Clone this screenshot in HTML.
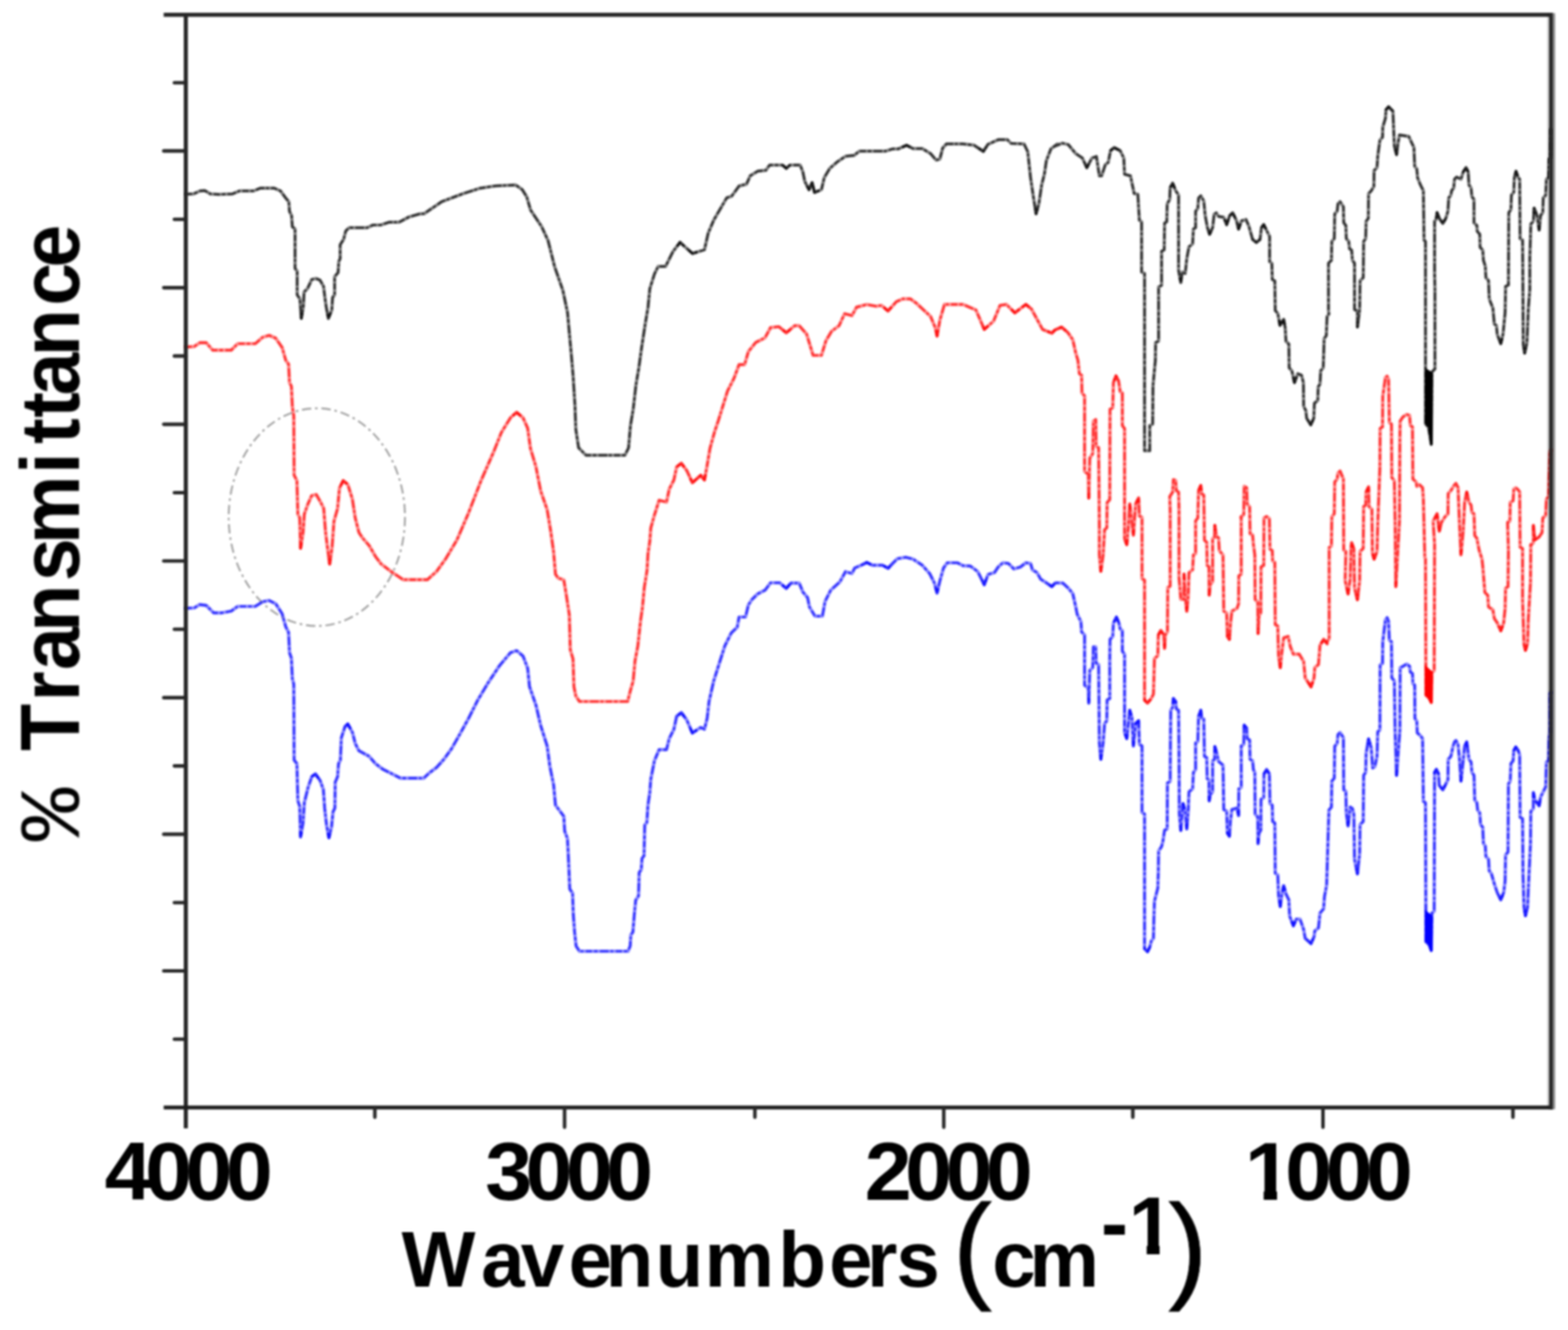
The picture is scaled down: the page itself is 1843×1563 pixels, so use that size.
<!DOCTYPE html>
<html lang="en">
<head>
<meta charset="utf-8">
<style>
html,body{margin:0;padding:0;background:#fff;}
body{width:1843px;height:1563px;overflow:hidden;}
svg{display:block;}
text{font-family:"Liberation Sans",sans-serif;font-weight:bold;fill:#000;}
.ax{stroke:#262626;fill:none;stroke-linecap:butt;}
.tk{stroke:#262626;fill:none;stroke-linecap:round;}
.cv{fill:none;stroke-linejoin:round;}
</style>
</head>
<body>
<svg width="1843" height="1563" viewBox="0 0 1843 1563">
<rect x="0" y="0" width="1843" height="1563" fill="#ffffff"/>
<g style="filter:blur(1px)">
<ellipse cx="372.4" cy="607.7" rx="103.6" ry="127.9" fill="none" stroke="#7a7a7a" stroke-width="2.2" stroke-dasharray="11 4.5 3 4.5" opacity="0.7"/>
<polyline class="cv" stroke="#1010ff" stroke-width="3.9" stroke-opacity="0.5" stroke-linecap="round" points="218.5,714.8 228.3,714.4 234.8,710.5 242.4,711.5 251.1,720.2 260.9,720.2 271.8,718.1 279.4,712.6 300.1,712.6 308.8,707.2 316.4,705.7 324,709.4 331.6,721.3 335.9,736.6 339.2,743.1 340.3,767 342.5,773.5 343.6,797.5 345.3,804 345.7,893.2 349,897.5 350.1,941 352.3,947.6 353.3,983.5 356.2,967.1 357.7,943.2 362,925.8 366.4,912.8 370.7,909.5 376.2,917.1 380.1,928 381.6,949.7 383.8,969.3 386.6,984.5 389.7,971.5 391.4,954.1 393.6,949.7 394,919.3 396.8,912.8 397.9,897.5 400.1,893.2 401.2,867.1 405.5,854 408.8,850.8 414.2,860.6 417.5,873.6 421.9,882.3 433.8,888.8 441.4,897.5 450.1,904.1 461,909.5 470.8,914.5 498,914.5 504.5,908.4 513.2,901.9 521.9,892.1 530.6,880.1 539.3,864.9 550.2,845.3 561.1,823.6 574.1,801.8 587.2,782.2 600,767 607.2,764.6 614.8,771.1 620.2,785.3 622.4,807 630,828.8 635.5,852.7 643.1,876.6 646.3,900.6 650.7,922.3 652.9,946.2 662.7,959.3 663.7,976.7 667,985.4 668.1,1007.1 669.7,1044.8 673,1049.7 673.8,1074.2 675.4,1095.4 677.1,1111.7 681.1,1117.9 738.2,1117.9 740.7,1111.7 741.5,1098.7 743.9,1095.4 745.6,1074.2 747.2,1057.9 750.5,1053 751.3,1025.3 753.7,1022 754.6,1008.9 757,1005.7 757.8,969.8 760.3,966.5 761.6,946.2 763.8,931 764.9,915.8 769.2,894 774.7,881 783.4,881 786.6,867.9 792.1,857 795.3,841.8 800.8,837.5 807.3,846.2 813.8,861.4 823.6,854.9 828,857 831.2,844 833.4,824.4 838.8,800.5 844.3,783.1 851.9,759.2 859.5,743.9 866.5,737.1 868.7,725.1 876.3,725.1 879.6,711 883.9,704.5 890.5,698 899.2,693.6 905.7,684.9 916.6,684.9 924.2,691.4 929.6,685.3 939.4,685.3 943.7,695.8 949.2,702.3 951.4,713.2 957.9,724.1 966.6,724.1 969.8,706.7 976.4,693.6 987.2,683.8 993.8,671.8 1001.4,674 1004.6,667.5 1012.3,664.2 1018.8,661 1025.3,664.2 1037.3,664.2 1043.8,667.9 1049.2,662.1 1054.7,656.6 1064.5,654.9 1073.2,657.1 1084,664.2 1092.7,674 1098.2,684.9 1101.4,696.9 1104.7,682.7 1109,667.5 1113.4,661.4 1125.4,661.4 1131.9,664.7 1140.6,665.3 1149.3,671.8 1156.9,687.1 1161.3,675.1 1168.9,672.9 1173.2,666.4 1178.7,661.4 1185.2,662.1 1191.7,668.6 1199.3,666.4 1205.8,661.4 1211.3,662.1 1213.5,669.7 1218.9,672.9 1223.2,680.6 1229.8,684.9 1236.3,689.3 1240.6,684.9 1249.3,685.3 1255.9,691.4 1260.9,697.5 1264.4,713.1 1266.1,721.8 1270.5,730.5 1271.3,742.7 1274.8,746.2 1274.8,805.3 1279.2,808.8 1279.7,826.2 1280.9,787.9 1284.4,784.5 1285.2,760.1 1287.9,760.1 1288.4,779.2 1291.3,781 1292.2,873.1 1293.9,892.2 1296.6,873.1 1298.3,850.5 1300.9,847 1301.3,822.6 1304.4,820.9 1304.4,774 1304.7,751.4 1307.9,747.9 1308.7,732.3 1312.2,725.3 1315.2,732.3 1316.6,739.2 1319.2,741 1319.2,765.3 1321.8,768.8 1321.8,860.9 1324.4,867.9 1326.1,852.2 1327.9,834.8 1330.5,843.5 1332.2,876.6 1334.8,850.5 1338.3,847 1339.2,874.8 1342.3,876.6 1342.3,954.9 1345.3,956.6 1345.3,1114.9 1348.8,1118.4 1351.4,1113.1 1353.1,1106.2 1355.7,1102.7 1356.2,1081.8 1356.9,1059.2 1360.9,1043.5 1361.5,1024.4 1361.8,1000 1365.3,994.9 1367,987.9 1368.8,975.8 1371.9,974 1372.2,920.1 1375.4,918.3 1375.7,869.6 1376.1,834.8 1378.3,831.3 1379.2,820.9 1381.8,824.4 1382.7,833.1 1385.3,834.8 1385.8,888.8 1386.2,956.6 1387.9,975.8 1390.5,944.4 1393.1,953.1 1394.9,974 1396.6,953.1 1397.5,930.5 1401.8,927 1402.7,907.9 1405.3,904.4 1405.3,873.1 1407.9,871.3 1408.8,841.8 1411.4,834.8 1412.3,843.5 1414.9,845.2 1415.7,888.8 1418.4,890.5 1418.9,914.9 1421,916.6 1421.3,941 1422.4,934 1425.3,930.5 1425.3,894 1427.6,892.2 1427.9,877.4 1429.7,883.5 1432.3,894.8 1437.5,899.2 1438.4,951.4 1441.8,953.1 1442.7,979.2 1445,982.7 1446.2,965.3 1447.9,951.4 1454,949.7 1455.8,958.4 1456.1,927 1458.9,925.3 1458.9,876.6 1461.9,874.8 1462.4,852.2 1465.3,855.7 1465.9,867.9 1468.8,869.6 1469.3,892.2 1472.3,894 1473.2,904.4 1474.9,907.9 1475.3,956.6 1478.4,960.1 1478.7,991.4 1479.8,979.2 1481.9,975.8 1482.2,939.2 1485.4,937.5 1485.7,909.6 1488.8,904.4 1492,909.6 1492.7,944.4 1495.4,946.2 1495.8,965.3 1498.4,967.1 1498.9,1026.2 1501.9,1028 1502.8,1052.2 1504.8,1065.3 1506.2,1054 1508.8,1040.9 1511.5,1050.5 1514.9,1057.5 1515.8,1076.6 1520.2,1087.9 1523.6,1080.1 1528,1080.1 1532.3,1092.3 1534.1,1102.7 1541,1108.8 1544.5,1101 1545.4,1094 1549.7,1090.5 1551.5,1073.1 1555.8,1067.9 1556.7,1054 1559.3,1040.1 1562,951.9 1564.9,948.5 1565.4,917.9 1568.3,914.5 1568.8,877 1571.7,873.6 1572.6,863.4 1575.1,860.9 1579,866.8 1579.4,928.1 1581.9,929.8 1582.4,955.3 1584.5,970.6 1587,948.5 1589.6,950.2 1591.3,957 1592.1,1009.8 1595.5,1026.8 1598.1,1003 1598.6,968.9 1602.3,965.5 1602.8,911.1 1605.2,907.7 1605.7,885.5 1608.6,868.5 1611.7,878.7 1613.4,902.5 1616,900.8 1618.5,888.9 1619.4,860 1621.9,857.8 1622.2,781.3 1625,779.6 1625.3,754 1628.4,728.5 1630.4,725.9 1632.1,730.2 1633,752.3 1635.5,754 1635.9,796.6 1638.9,800 1639.8,859.5 1641.5,911.1 1645.4,857.8 1645.7,784.7 1649.1,783 1653.4,780.4 1656.8,783 1657.7,789.8 1660.2,791.5 1660.7,803.4 1662.8,805.1 1663.1,844.2 1665.3,847.6 1665.8,861.2 1669.6,864.6 1672.1,868 1673,941.7 1675.5,943.4 1676,1106.8 1679.8,1110.2 1682.3,1117 1683.2,1072.7 1685.7,1071 1686.2,907.7 1688.3,904.2 1690.8,909.4 1691.7,923 1695.9,928.1 1699.4,921.3 1701.9,916.2 1702.2,892.3 1705.3,888.9 1707.9,877 1709.6,871.9 1711.3,870.2 1713.8,875.3 1715.5,892.3 1717.2,917.9 1719.8,894 1721.5,877 1724,871.9 1726.6,892.3 1729.1,895.7 1730,907.7 1732.5,911.1 1733.4,940 1735.9,943.4 1736.8,951.9 1739.3,955.3 1740.2,968.9 1742.8,972.3 1743.6,991 1745.8,994.4 1746.5,1006.4 1749.6,1009.8 1750.4,1023.4 1753,1026.8 1756.4,1038.7 1759.8,1048.9 1764,1057.4 1767.4,1048.9 1769.1,1035.3 1769.6,1004.7 1772.5,1001.3 1773,921.3 1775.1,917.9 1775.9,897.4 1778.5,894 1779.3,882.1 1781.6,877.9 1784.5,882.1 1786.2,887.2 1786.7,960.4 1789.6,962.1 1790.1,1026.8 1791.3,1065.9 1793,1076.1 1795.5,1065.9 1796.4,1043.8 1798.9,991 1799.3,953.6 1802.3,950.2 1802.3,931.5 1804,940 1809.1,946.8 1810.8,936.6 1813.4,931.5 1816.8,924.7 1817.6,895.7 1820.2,894 1820.7,868.5 1821.9,860 1821.9,815.3 1823.1,813.6"/>
<polyline class="cv" stroke="#0000ff" stroke-width="2.9" stroke-opacity="0.62" stroke-dasharray="7 2.6 4 3 10 2.4 3 3.2" stroke-linecap="butt" points="218.5,714.8 228.3,714.4 234.8,710.5 242.4,711.5 251.1,720.2 260.9,720.2 271.8,718.1 279.4,712.6 300.1,712.6 308.8,707.2 316.4,705.7 324,709.4 331.6,721.3 335.9,736.6 339.2,743.1 340.3,767 342.5,773.5 343.6,797.5 345.3,804 345.7,893.2 349,897.5 350.1,941 352.3,947.6 353.3,983.5 356.2,967.1 357.7,943.2 362,925.8 366.4,912.8 370.7,909.5 376.2,917.1 380.1,928 381.6,949.7 383.8,969.3 386.6,984.5 389.7,971.5 391.4,954.1 393.6,949.7 394,919.3 396.8,912.8 397.9,897.5 400.1,893.2 401.2,867.1 405.5,854 408.8,850.8 414.2,860.6 417.5,873.6 421.9,882.3 433.8,888.8 441.4,897.5 450.1,904.1 461,909.5 470.8,914.5 498,914.5 504.5,908.4 513.2,901.9 521.9,892.1 530.6,880.1 539.3,864.9 550.2,845.3 561.1,823.6 574.1,801.8 587.2,782.2 600,767 607.2,764.6 614.8,771.1 620.2,785.3 622.4,807 630,828.8 635.5,852.7 643.1,876.6 646.3,900.6 650.7,922.3 652.9,946.2 662.7,959.3 663.7,976.7 667,985.4 668.1,1007.1 669.7,1044.8 673,1049.7 673.8,1074.2 675.4,1095.4 677.1,1111.7 681.1,1117.9 738.2,1117.9 740.7,1111.7 741.5,1098.7 743.9,1095.4 745.6,1074.2 747.2,1057.9 750.5,1053 751.3,1025.3 753.7,1022 754.6,1008.9 757,1005.7 757.8,969.8 760.3,966.5 761.6,946.2 763.8,931 764.9,915.8 769.2,894 774.7,881 783.4,881 786.6,867.9 792.1,857 795.3,841.8 800.8,837.5 807.3,846.2 813.8,861.4 823.6,854.9 828,857 831.2,844 833.4,824.4 838.8,800.5 844.3,783.1 851.9,759.2 859.5,743.9 866.5,737.1 868.7,725.1 876.3,725.1 879.6,711 883.9,704.5 890.5,698 899.2,693.6 905.7,684.9 916.6,684.9 924.2,691.4 929.6,685.3 939.4,685.3 943.7,695.8 949.2,702.3 951.4,713.2 957.9,724.1 966.6,724.1 969.8,706.7 976.4,693.6 987.2,683.8 993.8,671.8 1001.4,674 1004.6,667.5 1012.3,664.2 1018.8,661 1025.3,664.2 1037.3,664.2 1043.8,667.9 1049.2,662.1 1054.7,656.6 1064.5,654.9 1073.2,657.1 1084,664.2 1092.7,674 1098.2,684.9 1101.4,696.9 1104.7,682.7 1109,667.5 1113.4,661.4 1125.4,661.4 1131.9,664.7 1140.6,665.3 1149.3,671.8 1156.9,687.1 1161.3,675.1 1168.9,672.9 1173.2,666.4 1178.7,661.4 1185.2,662.1 1191.7,668.6 1199.3,666.4 1205.8,661.4 1211.3,662.1 1213.5,669.7 1218.9,672.9 1223.2,680.6 1229.8,684.9 1236.3,689.3 1240.6,684.9 1249.3,685.3 1255.9,691.4 1260.9,697.5 1264.4,713.1 1266.1,721.8 1270.5,730.5 1271.3,742.7 1274.8,746.2 1274.8,805.3 1279.2,808.8 1279.7,826.2 1280.9,787.9 1284.4,784.5 1285.2,760.1 1287.9,760.1 1288.4,779.2 1291.3,781 1292.2,873.1 1293.9,892.2 1296.6,873.1 1298.3,850.5 1300.9,847 1301.3,822.6 1304.4,820.9 1304.4,774 1304.7,751.4 1307.9,747.9 1308.7,732.3 1312.2,725.3 1315.2,732.3 1316.6,739.2 1319.2,741 1319.2,765.3 1321.8,768.8 1321.8,860.9 1324.4,867.9 1326.1,852.2 1327.9,834.8 1330.5,843.5 1332.2,876.6 1334.8,850.5 1338.3,847 1339.2,874.8 1342.3,876.6 1342.3,954.9 1345.3,956.6 1345.3,1114.9 1348.8,1118.4 1351.4,1113.1 1353.1,1106.2 1355.7,1102.7 1356.2,1081.8 1356.9,1059.2 1360.9,1043.5 1361.5,1024.4 1361.8,1000 1365.3,994.9 1367,987.9 1368.8,975.8 1371.9,974 1372.2,920.1 1375.4,918.3 1375.7,869.6 1376.1,834.8 1378.3,831.3 1379.2,820.9 1381.8,824.4 1382.7,833.1 1385.3,834.8 1385.8,888.8 1386.2,956.6 1387.9,975.8 1390.5,944.4 1393.1,953.1 1394.9,974 1396.6,953.1 1397.5,930.5 1401.8,927 1402.7,907.9 1405.3,904.4 1405.3,873.1 1407.9,871.3 1408.8,841.8 1411.4,834.8 1412.3,843.5 1414.9,845.2 1415.7,888.8 1418.4,890.5 1418.9,914.9 1421,916.6 1421.3,941 1422.4,934 1425.3,930.5 1425.3,894 1427.6,892.2 1427.9,877.4 1429.7,883.5 1432.3,894.8 1437.5,899.2 1438.4,951.4 1441.8,953.1 1442.7,979.2 1445,982.7 1446.2,965.3 1447.9,951.4 1454,949.7 1455.8,958.4 1456.1,927 1458.9,925.3 1458.9,876.6 1461.9,874.8 1462.4,852.2 1465.3,855.7 1465.9,867.9 1468.8,869.6 1469.3,892.2 1472.3,894 1473.2,904.4 1474.9,907.9 1475.3,956.6 1478.4,960.1 1478.7,991.4 1479.8,979.2 1481.9,975.8 1482.2,939.2 1485.4,937.5 1485.7,909.6 1488.8,904.4 1492,909.6 1492.7,944.4 1495.4,946.2 1495.8,965.3 1498.4,967.1 1498.9,1026.2 1501.9,1028 1502.8,1052.2 1504.8,1065.3 1506.2,1054 1508.8,1040.9 1511.5,1050.5 1514.9,1057.5 1515.8,1076.6 1520.2,1087.9 1523.6,1080.1 1528,1080.1 1532.3,1092.3 1534.1,1102.7 1541,1108.8 1544.5,1101 1545.4,1094 1549.7,1090.5 1551.5,1073.1 1555.8,1067.9 1556.7,1054 1559.3,1040.1 1562,951.9 1564.9,948.5 1565.4,917.9 1568.3,914.5 1568.8,877 1571.7,873.6 1572.6,863.4 1575.1,860.9 1579,866.8 1579.4,928.1 1581.9,929.8 1582.4,955.3 1584.5,970.6 1587,948.5 1589.6,950.2 1591.3,957 1592.1,1009.8 1595.5,1026.8 1598.1,1003 1598.6,968.9 1602.3,965.5 1602.8,911.1 1605.2,907.7 1605.7,885.5 1608.6,868.5 1611.7,878.7 1613.4,902.5 1616,900.8 1618.5,888.9 1619.4,860 1621.9,857.8 1622.2,781.3 1625,779.6 1625.3,754 1628.4,728.5 1630.4,725.9 1632.1,730.2 1633,752.3 1635.5,754 1635.9,796.6 1638.9,800 1639.8,859.5 1641.5,911.1 1645.4,857.8 1645.7,784.7 1649.1,783 1653.4,780.4 1656.8,783 1657.7,789.8 1660.2,791.5 1660.7,803.4 1662.8,805.1 1663.1,844.2 1665.3,847.6 1665.8,861.2 1669.6,864.6 1672.1,868 1673,941.7 1675.5,943.4 1676,1106.8 1679.8,1110.2 1682.3,1117 1683.2,1072.7 1685.7,1071 1686.2,907.7 1688.3,904.2 1690.8,909.4 1691.7,923 1695.9,928.1 1699.4,921.3 1701.9,916.2 1702.2,892.3 1705.3,888.9 1707.9,877 1709.6,871.9 1711.3,870.2 1713.8,875.3 1715.5,892.3 1717.2,917.9 1719.8,894 1721.5,877 1724,871.9 1726.6,892.3 1729.1,895.7 1730,907.7 1732.5,911.1 1733.4,940 1735.9,943.4 1736.8,951.9 1739.3,955.3 1740.2,968.9 1742.8,972.3 1743.6,991 1745.8,994.4 1746.5,1006.4 1749.6,1009.8 1750.4,1023.4 1753,1026.8 1756.4,1038.7 1759.8,1048.9 1764,1057.4 1767.4,1048.9 1769.1,1035.3 1769.6,1004.7 1772.5,1001.3 1773,921.3 1775.1,917.9 1775.9,897.4 1778.5,894 1779.3,882.1 1781.6,877.9 1784.5,882.1 1786.2,887.2 1786.7,960.4 1789.6,962.1 1790.1,1026.8 1791.3,1065.9 1793,1076.1 1795.5,1065.9 1796.4,1043.8 1798.9,991 1799.3,953.6 1802.3,950.2 1802.3,931.5 1804,940 1809.1,946.8 1810.8,936.6 1813.4,931.5 1816.8,924.7 1817.6,895.7 1820.2,894 1820.7,868.5 1821.9,860 1821.9,815.3 1823.1,813.6"/>
<path class="cv" stroke="#0000ff" stroke-width="3.3" stroke-opacity="0.65" stroke-linecap="round" d="M353.2,978.5 L353.3,983.5 L354.2,978.6 M366.7,912.5 L370.7,909.5 L373.6,913.6 M385.7,979.6 L386.6,984.5 L387.8,979.6 M405.4,854.4 L405.5,854.0 L408.8,850.8 L411.2,855.2 M796.9,840.6 L800.8,837.5 L803.8,841.5 M811.8,856.8 L813.8,861.4 L818.0,858.6 M920.4,688.2 L924.2,691.4 L927.5,687.7 M1014.3,663.2 L1018.8,661.0 L1023.3,663.2 M1039.5,665.4 L1043.8,667.9 L1047.2,664.2 M1100.1,692.1 L1101.4,696.9 L1102.5,692.0 M1154.7,682.6 L1156.9,687.1 L1158.6,682.4 M1232.2,686.5 L1236.3,689.3 L1239.8,685.7 M1279.6,821.2 L1279.7,826.2 L1279.9,821.2 M1293.5,887.2 L1293.9,892.2 L1294.6,887.2 M1310.0,729.8 L1312.2,725.3 L1314.2,729.9 M1322.7,863.2 L1324.4,867.9 L1324.9,862.9 M1327.4,839.8 L1327.9,834.8 L1329.3,839.6 M1331.9,871.6 L1332.2,876.6 L1332.7,871.6 M1334.8,850.6 L1334.8,850.5 L1338.3,847.0 L1338.5,852.0 M1345.3,1114.8 L1345.3,1114.9 L1348.8,1118.4 L1351.0,1113.9 M1378.8,825.9 L1379.2,820.9 L1381.8,824.4 L1381.9,825.0 M1387.5,970.8 L1387.9,975.8 L1388.3,970.8 M1390.1,949.4 L1390.5,944.4 L1391.9,949.2 M1394.5,969.0 L1394.9,974.0 L1395.3,969.0 M1409.7,839.5 L1411.4,834.8 L1411.9,839.8 M1421.2,936.0 L1421.3,941.0 L1422.1,936.1 M1427.8,882.4 L1427.9,877.4 L1429.3,882.2 M1442.7,978.4 L1442.7,979.2 L1445.0,982.7 L1445.3,977.7 M1454.8,953.5 L1455.8,958.4 L1455.8,953.4 M1462.3,857.2 L1462.4,852.2 L1465.3,855.7 L1465.3,856.2 M1478.7,986.4 L1478.7,991.4 L1479.1,986.4 M1486.2,908.7 L1488.8,904.4 L1491.4,908.7 M1504.0,1060.4 L1504.8,1065.3 L1505.4,1060.3 M1507.8,1045.8 L1508.8,1040.9 L1510.2,1045.7 M1518.4,1083.2 L1520.2,1087.9 L1522.2,1083.3 M1537.3,1105.5 L1541.0,1108.8 L1543.0,1104.2 M1583.8,965.6 L1584.5,970.6 L1585.1,965.6 M1594.5,1021.9 L1595.5,1026.8 L1596.0,1021.8 M1607.8,873.4 L1608.6,868.5 L1610.1,873.3 M1641.3,906.1 L1641.5,911.1 L1641.9,906.1 M1680.6,1112.3 L1682.3,1117.0 L1682.4,1112.0 M1686.2,908.6 L1686.2,907.7 L1688.3,904.2 L1690.5,908.7 M1692.7,924.2 L1695.9,928.1 L1698.2,923.7 M1716.9,912.9 L1717.2,917.9 L1717.7,912.9 M1721.8,876.4 L1724.0,871.9 L1724.6,876.9 M1761.8,1052.9 L1764.0,1057.4 L1765.9,1052.8 M1779.3,882.3 L1779.3,882.1 L1781.6,877.9 L1784.4,882.0 M1792.2,1071.2 L1793.0,1076.1 L1794.2,1071.2 M1802.3,936.5 L1802.3,931.5 L1803.3,936.4 M1806.1,942.8 L1809.1,946.8 L1809.9,941.9"/>
<polygon fill="#0000ff" points="1674.7,1069.3 1684,1076.1 1684,1117 1681.5,1118.3 1678.4,1110.2 1674.7,1106.8"/>
<polyline class="cv" stroke="#ff0c0c" stroke-width="3.9" stroke-opacity="0.5" stroke-linecap="round" points="218.5,407.8 228.3,407.2 234.8,402.8 242.4,402.8 250,411.5 271.8,411.5 279.4,403.9 300.1,403.9 308.8,396.3 316.4,394.1 324,397.4 331.6,408.3 335.9,423.5 339.2,427.9 340.3,449.6 342.5,454 343.6,477.9 345.3,488.8 345.7,558.4 349,564.9 350.1,604.1 352.3,608.4 353.3,644.3 356.2,625.8 357.7,604.1 362,592.1 366.4,582.3 371.8,581.2 377.3,591 380.5,597.5 382.7,625.8 384.9,643.2 387.5,662.8 390.3,643.2 392.5,612.8 396.8,597.5 399,573.6 403.4,564.9 408.8,569.3 414.2,586.7 417.5,608.4 421.9,625.8 426.2,632.3 433.8,641 441.4,654.1 448,662.8 461,672.6 474.1,681.3 502.3,681.3 513.2,671.5 524.1,656.3 537.1,634.5 550.2,604.1 565.4,564.9 580.6,530.1 589.3,508.3 600,490.9 607.2,484.6 614.8,491.1 620.2,503.1 623.5,527 630,548.8 635.5,577 643.1,598.8 647.4,624.9 650.7,648.8 652.9,674.9 656.1,679.3 662.7,681.5 665.9,701 669.2,722.8 670.3,763.5 673.5,774.4 674.6,807 676.8,817.9 681.1,824.4 737.7,824.4 741,811.4 744.2,800.5 746.4,776.6 749.7,759.2 752.9,729.3 755.1,714.1 757.3,690.2 760.5,670.6 761.6,651 763.8,635.8 764.9,620.6 769.2,605.3 774.7,587.9 783.4,590.1 786.6,574.9 792.1,564 795.3,548.8 800.8,544.4 807.3,553.1 813.8,567.3 823.6,558.6 828,564 831.2,546.6 834.5,527 839.9,507.4 844.3,494.4 849.7,477 855.1,459.6 862.8,444.4 864.4,440 868.7,428.5 875.2,428.5 879.6,413.2 888.3,402.4 899.2,396.9 905.7,385 915.5,383.9 924.2,391.1 934,382.8 939.4,382.8 948.1,392.6 955.7,417.6 965.5,417.6 970.9,400.2 977.5,389.3 986.2,382.8 992.7,368.7 1001.4,370.8 1006.8,361 1018.8,357.8 1029.7,359.9 1036.2,358.9 1043.8,365.4 1053.6,354.5 1061.2,351.2 1069.9,351.2 1077.5,356.7 1093.8,371.9 1099.3,385 1101.4,394.8 1104.7,376.3 1110.1,357.8 1131.9,357.8 1147.1,364.3 1156.9,387.1 1167.8,377.4 1175.4,358.9 1183,357.8 1192.8,367.6 1205.8,357.8 1212.4,363.2 1225.4,387.1 1236.3,391.5 1240,387.8 1247.8,384.4 1254.8,390.4 1260.9,399.1 1264.4,414.8 1267,423.5 1268.7,439.2 1271.3,440.9 1271.7,461.8 1274.8,465.3 1274.8,554 1279.2,557.5 1279.7,585.3 1280.9,538.4 1284.4,533.1 1285.2,494.9 1287.9,493.1 1288.4,524.4 1291.3,526.2 1292.2,620.2 1292.2,652.2 1293.9,671.3 1296.6,652.2 1298.3,622.6 1300.9,620.2 1301.3,590.6 1304.4,587.1 1304.7,480.9 1307.9,479.2 1308.7,449.6 1311.7,441.8 1314.8,447.9 1316.6,460.1 1319.2,461.8 1319.2,500.1 1321.8,503.6 1321.8,620.2 1321.8,633.1 1324.4,640 1326.1,620.9 1327.9,592.3 1332.2,628.9 1334.8,592.3 1338.3,585.3 1339.2,606.2 1342.3,608 1342.3,680.1 1345.3,681.8 1345.3,822.8 1348.8,826.2 1353.1,821 1355.7,815.8 1356.2,800.1 1356.9,774 1360.9,770.5 1361.5,746.2 1364.4,741 1367.9,746.2 1368.8,761.8 1369.6,746.2 1372.2,742.7 1372.6,690.5 1375.4,688.8 1375.4,600 1374.9,583.6 1378.3,578.4 1379.2,563.6 1381.8,564.5 1382.7,576.6 1385.3,578.4 1385.8,600 1385.8,678.3 1387.9,704.4 1391.4,704.4 1391.7,674.8 1393.1,700.9 1394.9,718.3 1396.6,700.9 1397.5,673.1 1401.8,669.6 1402.7,652.2 1405.3,650.5 1405.3,612.2 1407.9,608.7 1407.9,608 1408.8,576.6 1411.4,570.6 1412.3,580.1 1414.9,581.9 1415.7,634.1 1415.7,634.8 1418.4,637.4 1418.9,664.4 1421,666.1 1421.3,699.2 1422.4,687 1425.3,683.5 1425.3,633.1 1427.6,631.3 1427.9,617.4 1429.7,630.5 1432.3,632.2 1433.1,647 1437.5,652.2 1438.4,718.3 1441.8,720.1 1442.7,747.9 1445,751.4 1446.2,734 1447.9,718.3 1454,714.9 1455.8,709.6 1456.1,676.6 1458.9,674.8 1458.9,607 1458.4,608 1461.9,604.5 1462.4,571.4 1465.3,573.2 1465.9,592.3 1468.8,595.8 1469.3,627.1 1469.3,627 1472.3,628.7 1473.2,639.2 1474.9,652.2 1475.3,704.4 1478.4,707.9 1478.7,744.4 1479.8,723.6 1481.9,720.1 1482.2,666.1 1485.4,664.4 1485.7,608.7 1488.8,607 1492,609.6 1492.7,645.2 1495.4,647 1495.8,659.2 1498.4,660.9 1498.9,734 1501.9,735.7 1502.8,770.5 1504.8,784.5 1506.2,770.5 1508.8,749.7 1514.1,747.9 1516.7,760.1 1520.2,768.8 1527.1,768.8 1532.3,777.5 1534.1,796.6 1541,807.1 1544.5,796.6 1545.4,784.5 1549.7,781 1551.5,758.4 1555.8,751.4 1560,756.6 1559.8,754 1562.3,750.6 1562.3,643.4 1564.9,641.7 1565.4,607.2 1568.3,603.8 1568.8,566.4 1571.7,563 1572.6,556.1 1575.1,553.6 1579,563 1579.4,646.3 1581.9,648 1581.1,682.5 1584.5,697.9 1587,680.8 1587.9,646.8 1588.7,637.8 1591.3,645.1 1592.1,691.1 1595.5,704.7 1598.1,682.5 1598.6,648.5 1598.6,648 1602.3,644.6 1602.8,595.3 1605.2,593.6 1605.7,578.3 1608.6,572.3 1609.1,595.3 1612.5,598.7 1613.1,649.8 1615.1,657 1618.5,648 1619.4,615.7 1621.9,549.3 1622.2,503.4 1625,501.7 1625.3,466 1628.4,443.8 1630.4,442.1 1632.1,445.5 1633,496.6 1635.5,498.3 1635.9,561.3 1638.9,564.7 1639.8,612.3 1640.6,689.4 1644.9,612.3 1645.4,515.3 1645.7,494.9 1649.1,489.8 1653.4,487.2 1656.8,488.1 1657.7,500 1660.2,501.7 1660.7,563 1664.5,566.4 1665.3,571.5 1668.7,569.8 1672.1,573.2 1673,586.8 1674.7,654.9 1675.5,657 1676,817 1679.8,820.4 1682.3,825.5 1683.2,789.8 1685.7,788.1 1686.2,640 1684.5,612.3 1687.4,607.2 1689.1,603.8 1691.7,624.2 1694.2,614 1698.5,607.2 1701.9,603.8 1702.2,580 1705.3,576.6 1709.6,569.8 1711.3,568.1 1713.8,573.2 1715.5,615.7 1717.2,651.9 1719.8,624.2 1721.5,590.2 1724,578.3 1726.6,590.2 1729.1,593.6 1730,602.1 1732.5,603.8 1733.4,629.3 1735.9,632.7 1738.5,646.3 1741.9,657 1742.8,665.5 1745.3,696.2 1748.7,699.6 1749.6,713.2 1754.7,716.6 1756.4,726.8 1759.8,731.9 1764,741.3 1767.4,731.9 1769.1,714.9 1769.6,691.1 1772.5,689.4 1773,646.8 1772,614 1774.7,612.3 1775.1,590.2 1778.5,588.5 1779.3,574.9 1781.6,573.2 1784.5,575.7 1786.2,578.3 1786.7,642.9 1789.6,644.6 1789.6,704.7 1791.3,757.4 1793,764.2 1795.5,755.7 1796.4,726.8 1798.9,684.2 1799.3,640 1798.9,641.2 1802.3,637.8 1802.3,617.4 1804,634.4 1809.1,631 1812.5,625.9 1813.4,608.9 1816.8,605.5 1817.6,586.8 1820.2,583.4 1820.7,563 1821.9,530.6 1823.1,528.9"/>
<polyline class="cv" stroke="#ff0000" stroke-width="2.9" stroke-opacity="0.62" stroke-dasharray="7 2.6 4 3 10 2.4 3 3.2" stroke-linecap="butt" points="218.5,407.8 228.3,407.2 234.8,402.8 242.4,402.8 250,411.5 271.8,411.5 279.4,403.9 300.1,403.9 308.8,396.3 316.4,394.1 324,397.4 331.6,408.3 335.9,423.5 339.2,427.9 340.3,449.6 342.5,454 343.6,477.9 345.3,488.8 345.7,558.4 349,564.9 350.1,604.1 352.3,608.4 353.3,644.3 356.2,625.8 357.7,604.1 362,592.1 366.4,582.3 371.8,581.2 377.3,591 380.5,597.5 382.7,625.8 384.9,643.2 387.5,662.8 390.3,643.2 392.5,612.8 396.8,597.5 399,573.6 403.4,564.9 408.8,569.3 414.2,586.7 417.5,608.4 421.9,625.8 426.2,632.3 433.8,641 441.4,654.1 448,662.8 461,672.6 474.1,681.3 502.3,681.3 513.2,671.5 524.1,656.3 537.1,634.5 550.2,604.1 565.4,564.9 580.6,530.1 589.3,508.3 600,490.9 607.2,484.6 614.8,491.1 620.2,503.1 623.5,527 630,548.8 635.5,577 643.1,598.8 647.4,624.9 650.7,648.8 652.9,674.9 656.1,679.3 662.7,681.5 665.9,701 669.2,722.8 670.3,763.5 673.5,774.4 674.6,807 676.8,817.9 681.1,824.4 737.7,824.4 741,811.4 744.2,800.5 746.4,776.6 749.7,759.2 752.9,729.3 755.1,714.1 757.3,690.2 760.5,670.6 761.6,651 763.8,635.8 764.9,620.6 769.2,605.3 774.7,587.9 783.4,590.1 786.6,574.9 792.1,564 795.3,548.8 800.8,544.4 807.3,553.1 813.8,567.3 823.6,558.6 828,564 831.2,546.6 834.5,527 839.9,507.4 844.3,494.4 849.7,477 855.1,459.6 862.8,444.4 864.4,440 868.7,428.5 875.2,428.5 879.6,413.2 888.3,402.4 899.2,396.9 905.7,385 915.5,383.9 924.2,391.1 934,382.8 939.4,382.8 948.1,392.6 955.7,417.6 965.5,417.6 970.9,400.2 977.5,389.3 986.2,382.8 992.7,368.7 1001.4,370.8 1006.8,361 1018.8,357.8 1029.7,359.9 1036.2,358.9 1043.8,365.4 1053.6,354.5 1061.2,351.2 1069.9,351.2 1077.5,356.7 1093.8,371.9 1099.3,385 1101.4,394.8 1104.7,376.3 1110.1,357.8 1131.9,357.8 1147.1,364.3 1156.9,387.1 1167.8,377.4 1175.4,358.9 1183,357.8 1192.8,367.6 1205.8,357.8 1212.4,363.2 1225.4,387.1 1236.3,391.5 1240,387.8 1247.8,384.4 1254.8,390.4 1260.9,399.1 1264.4,414.8 1267,423.5 1268.7,439.2 1271.3,440.9 1271.7,461.8 1274.8,465.3 1274.8,554 1279.2,557.5 1279.7,585.3 1280.9,538.4 1284.4,533.1 1285.2,494.9 1287.9,493.1 1288.4,524.4 1291.3,526.2 1292.2,620.2 1292.2,652.2 1293.9,671.3 1296.6,652.2 1298.3,622.6 1300.9,620.2 1301.3,590.6 1304.4,587.1 1304.7,480.9 1307.9,479.2 1308.7,449.6 1311.7,441.8 1314.8,447.9 1316.6,460.1 1319.2,461.8 1319.2,500.1 1321.8,503.6 1321.8,620.2 1321.8,633.1 1324.4,640 1326.1,620.9 1327.9,592.3 1332.2,628.9 1334.8,592.3 1338.3,585.3 1339.2,606.2 1342.3,608 1342.3,680.1 1345.3,681.8 1345.3,822.8 1348.8,826.2 1353.1,821 1355.7,815.8 1356.2,800.1 1356.9,774 1360.9,770.5 1361.5,746.2 1364.4,741 1367.9,746.2 1368.8,761.8 1369.6,746.2 1372.2,742.7 1372.6,690.5 1375.4,688.8 1375.4,600 1374.9,583.6 1378.3,578.4 1379.2,563.6 1381.8,564.5 1382.7,576.6 1385.3,578.4 1385.8,600 1385.8,678.3 1387.9,704.4 1391.4,704.4 1391.7,674.8 1393.1,700.9 1394.9,718.3 1396.6,700.9 1397.5,673.1 1401.8,669.6 1402.7,652.2 1405.3,650.5 1405.3,612.2 1407.9,608.7 1407.9,608 1408.8,576.6 1411.4,570.6 1412.3,580.1 1414.9,581.9 1415.7,634.1 1415.7,634.8 1418.4,637.4 1418.9,664.4 1421,666.1 1421.3,699.2 1422.4,687 1425.3,683.5 1425.3,633.1 1427.6,631.3 1427.9,617.4 1429.7,630.5 1432.3,632.2 1433.1,647 1437.5,652.2 1438.4,718.3 1441.8,720.1 1442.7,747.9 1445,751.4 1446.2,734 1447.9,718.3 1454,714.9 1455.8,709.6 1456.1,676.6 1458.9,674.8 1458.9,607 1458.4,608 1461.9,604.5 1462.4,571.4 1465.3,573.2 1465.9,592.3 1468.8,595.8 1469.3,627.1 1469.3,627 1472.3,628.7 1473.2,639.2 1474.9,652.2 1475.3,704.4 1478.4,707.9 1478.7,744.4 1479.8,723.6 1481.9,720.1 1482.2,666.1 1485.4,664.4 1485.7,608.7 1488.8,607 1492,609.6 1492.7,645.2 1495.4,647 1495.8,659.2 1498.4,660.9 1498.9,734 1501.9,735.7 1502.8,770.5 1504.8,784.5 1506.2,770.5 1508.8,749.7 1514.1,747.9 1516.7,760.1 1520.2,768.8 1527.1,768.8 1532.3,777.5 1534.1,796.6 1541,807.1 1544.5,796.6 1545.4,784.5 1549.7,781 1551.5,758.4 1555.8,751.4 1560,756.6 1559.8,754 1562.3,750.6 1562.3,643.4 1564.9,641.7 1565.4,607.2 1568.3,603.8 1568.8,566.4 1571.7,563 1572.6,556.1 1575.1,553.6 1579,563 1579.4,646.3 1581.9,648 1581.1,682.5 1584.5,697.9 1587,680.8 1587.9,646.8 1588.7,637.8 1591.3,645.1 1592.1,691.1 1595.5,704.7 1598.1,682.5 1598.6,648.5 1598.6,648 1602.3,644.6 1602.8,595.3 1605.2,593.6 1605.7,578.3 1608.6,572.3 1609.1,595.3 1612.5,598.7 1613.1,649.8 1615.1,657 1618.5,648 1619.4,615.7 1621.9,549.3 1622.2,503.4 1625,501.7 1625.3,466 1628.4,443.8 1630.4,442.1 1632.1,445.5 1633,496.6 1635.5,498.3 1635.9,561.3 1638.9,564.7 1639.8,612.3 1640.6,689.4 1644.9,612.3 1645.4,515.3 1645.7,494.9 1649.1,489.8 1653.4,487.2 1656.8,488.1 1657.7,500 1660.2,501.7 1660.7,563 1664.5,566.4 1665.3,571.5 1668.7,569.8 1672.1,573.2 1673,586.8 1674.7,654.9 1675.5,657 1676,817 1679.8,820.4 1682.3,825.5 1683.2,789.8 1685.7,788.1 1686.2,640 1684.5,612.3 1687.4,607.2 1689.1,603.8 1691.7,624.2 1694.2,614 1698.5,607.2 1701.9,603.8 1702.2,580 1705.3,576.6 1709.6,569.8 1711.3,568.1 1713.8,573.2 1715.5,615.7 1717.2,651.9 1719.8,624.2 1721.5,590.2 1724,578.3 1726.6,590.2 1729.1,593.6 1730,602.1 1732.5,603.8 1733.4,629.3 1735.9,632.7 1738.5,646.3 1741.9,657 1742.8,665.5 1745.3,696.2 1748.7,699.6 1749.6,713.2 1754.7,716.6 1756.4,726.8 1759.8,731.9 1764,741.3 1767.4,731.9 1769.1,714.9 1769.6,691.1 1772.5,689.4 1773,646.8 1772,614 1774.7,612.3 1775.1,590.2 1778.5,588.5 1779.3,574.9 1781.6,573.2 1784.5,575.7 1786.2,578.3 1786.7,642.9 1789.6,644.6 1789.6,704.7 1791.3,757.4 1793,764.2 1795.5,755.7 1796.4,726.8 1798.9,684.2 1799.3,640 1798.9,641.2 1802.3,637.8 1802.3,617.4 1804,634.4 1809.1,631 1812.5,625.9 1813.4,608.9 1816.8,605.5 1817.6,586.8 1820.2,583.4 1820.7,563 1821.9,530.6 1823.1,528.9"/>
<path class="cv" stroke="#ff0000" stroke-width="3.3" stroke-opacity="0.65" stroke-linecap="round" d="M353.2,639.3 L353.3,644.3 L354.1,639.4 M386.8,657.8 L387.5,662.8 L388.2,657.9 M401.1,569.4 L403.4,564.9 L407.3,568.1 M603.4,487.9 L607.2,484.6 L611.0,487.8 M796.9,547.5 L800.8,544.4 L803.8,548.4 M811.7,562.8 L813.8,567.3 L817.5,564.0 M819.9,561.9 L823.6,558.6 L826.8,562.5 M824.8,560.1 L828.0,564.0 L828.9,559.1 M920.3,387.9 L924.2,391.1 L928.0,387.9 M1040.0,362.2 L1043.8,365.4 L1047.1,361.7 M1100.4,389.9 L1101.4,394.8 L1102.3,389.9 M1154.9,382.5 L1156.9,387.1 L1160.6,383.8 M1189.3,364.1 L1192.8,367.6 L1196.8,364.6 M1201.8,360.8 L1205.8,357.8 L1209.7,361.0 M1231.7,389.6 L1236.3,391.5 L1239.8,388.0 M1243.2,386.4 L1247.8,384.4 L1251.6,387.7 M1279.6,580.3 L1279.7,585.3 L1279.8,580.3 M1293.5,666.3 L1293.9,671.3 L1294.6,666.3 M1309.9,446.5 L1311.7,441.8 L1314.0,446.3 M1322.6,635.3 L1324.4,640.0 L1324.8,635.0 M1327.6,597.3 L1327.9,592.3 L1328.5,597.3 M1331.6,623.9 L1332.2,628.9 L1332.6,623.9 M1336.1,589.8 L1338.3,585.3 L1338.5,590.3 M1345.3,822.7 L1345.3,822.8 L1348.8,826.2 L1352.0,822.3 M1362.0,745.4 L1364.4,741.0 L1367.2,745.1 M1368.5,756.8 L1368.8,761.8 L1369.1,756.8 M1391.6,679.8 L1391.7,674.8 L1392.0,679.8 M1394.4,713.3 L1394.9,718.3 L1395.4,713.3 M1409.4,575.2 L1411.4,570.6 L1411.9,575.6 M1421.3,694.2 L1421.3,699.2 L1421.7,694.2 M1427.8,622.4 L1427.9,617.4 L1428.6,622.4 M1442.7,747.1 L1442.7,747.9 L1445.0,751.4 L1445.3,746.4 M1478.7,739.4 L1478.7,744.4 L1479.0,739.4 M1504.1,779.6 L1504.8,784.5 L1505.3,779.5 M1538.3,802.9 L1541.0,807.1 L1542.6,802.4 M1553.2,755.7 L1555.8,751.4 L1558.9,755.3 M1583.4,693.0 L1584.5,697.9 L1585.2,693.0 M1588.3,642.8 L1588.7,637.8 L1590.4,642.5 M1594.3,699.8 L1595.5,704.7 L1596.1,699.7 M1606.4,576.8 L1608.6,572.3 L1608.7,577.3 M1613.8,652.2 L1615.1,657.0 L1616.9,652.3 M1640.5,684.4 L1640.6,689.4 L1640.9,684.4 M1680.1,821.0 L1682.3,825.5 L1682.4,820.5 M1686.8,608.2 L1687.4,607.2 L1689.1,603.8 L1689.7,608.8 M1691.1,619.2 L1691.7,624.2 L1692.9,619.3 M1717.0,646.9 L1717.2,651.9 L1717.7,646.9 M1723.0,583.2 L1724.0,578.3 L1725.1,583.2 M1762.0,736.7 L1764.0,741.3 L1765.7,736.6 M1791.8,759.3 L1793.0,764.2 L1794.4,759.4 M1802.3,622.4 L1802.3,617.4 L1802.8,622.4 M1803.5,629.4 L1804.0,634.4 L1808.2,631.6"/>
<polygon fill="#ff0000" points="1674.7,781.3 1684,789.8 1684,825.5 1681.5,826.9 1678.4,820.4 1674.7,817"/>
<polyline class="cv" stroke="#161616" stroke-width="3.7" stroke-opacity="0.56" stroke-linecap="round" points="218.8,228.1 227.7,227.8 235.1,224.4 240.8,224 247.3,227.8 257.1,228.5 273.4,227.8 281.6,224.4 297.9,224.4 306,221.1 322.3,221.1 329.7,224.4 335.4,232.2 339.5,237.1 340.3,248.5 342.7,253.4 343.6,266.5 346.8,268.9 346.8,315.4 349.3,318.7 349.3,346.4 352.5,351.3 354.2,374.1 356.6,359.5 357.4,343.1 361.5,339.1 366.4,328.5 371.3,327.3 376.2,329.3 380.3,336.6 381.9,349.7 383.5,361.1 386,374.1 390,364.4 390.9,349.7 393.3,346.4 393.3,325.2 397.4,320.3 398.2,307.3 399.8,304 399.8,287.7 403.9,281.2 406.4,271.4 410.4,267.6 431.6,267.6 438.2,264.5 448,264.3 457.7,261.1 469.2,261.1 480.6,255 493.6,251.3 498.5,251.1 519.2,237 545.3,227.2 564.8,221.1 582.2,218.5 606.2,217.4 613.8,222.8 619.2,231.5 623.6,246.8 636.6,266.3 644.2,282.7 651.8,313.1 661.6,341.4 667.1,367.5 669.2,391.4 671.4,415.4 673.6,441.5 675.8,476.3 676.8,504.5 680.1,526.3 688.8,535 734.5,535 738.8,526.3 741,500.2 744.3,480.6 747.5,452.3 750.8,432.8 754.1,408.8 758.4,380.6 761.7,361 763.8,339.2 769.3,321.8 773.6,313.1 782.3,313.1 791,295.7 799.3,284.8 813.9,297.9 828,293.5 832.4,274 838.9,258.7 854.1,232.6 860,230.5 868.7,218.6 877.4,216.4 881.8,206.6 890.5,201.2 900.2,200.1 904.6,194 919.8,194 924.2,197.9 928.5,194 940.5,194 943.7,202.2 945.9,213.1 950.9,222.9 954.6,214.6 957.4,226.2 965.5,222.9 968.8,208.8 975.3,197.9 984,190.3 993.8,183.7 1003.6,182.7 1010.1,177.7 1040.5,177.7 1049.2,175 1055.8,175 1065.5,170.7 1073.2,174.6 1084,174.6 1093.8,180.5 1100.3,188.1 1104.7,187 1108,174 1112.3,169.2 1131.9,169.2 1144.9,170.7 1155.8,177.9 1161.3,169.6 1173.2,164.2 1184.1,164.2 1188.4,168.5 1203.7,169.2 1208,178.3 1211.3,208.8 1214.5,230.5 1217.8,251.2 1221.1,239.2 1224.3,217.5 1227.6,204.4 1229.8,189.2 1235.2,175 1242.8,169.2 1240,171.8 1248.7,168.3 1255.7,170 1264.4,180.5 1272.2,185.7 1277.4,197 1283.5,185.7 1288.7,183.9 1292.2,206.6 1294.8,206.6 1299.2,193.5 1302.6,190.9 1305.3,177 1309.6,173.5 1316.6,177 1320.9,185.7 1321.8,204.8 1328.7,206.6 1333.1,227.5 1337.4,228.3 1339.2,258.8 1341.8,260.5 1341.8,319.7 1345.3,321.4 1345.3,529.7 1351.4,529.7 1351.4,500.1 1354.8,498.3 1355.2,453.1 1358,423.5 1358.3,402.6 1361.8,400.9 1361.8,337.1 1365.3,335.3 1365.3,295.3 1368.4,293.6 1368.8,262.3 1371.4,260.5 1371.9,239.6 1374.9,234.4 1375.4,220.5 1378.3,215.3 1381.8,224 1385.3,229.2 1385.3,317.9 1387.9,331.9 1389.6,319.7 1393.1,321.4 1394.9,304 1397.5,290.1 1401.8,286.6 1402.7,269.2 1405.3,267.5 1405.3,248.3 1407.9,244.9 1408.8,232.7 1411.4,230.1 1414.9,236.2 1416.6,253.6 1419.2,267.5 1421.8,275.3 1425.3,267.5 1427.1,251.8 1429.7,250.1 1432.3,254.4 1438.4,255.3 1441.8,264 1445.3,253.6 1448.8,250.1 1453.2,258.8 1455.8,269.2 1459.2,259.6 1464.5,257.9 1467.9,265.7 1472.3,281.4 1476.7,284.9 1481,281.4 1482.7,267.5 1485.4,264 1489.7,272.7 1492.3,277.9 1492.3,307.5 1494.9,309.2 1495.4,328.4 1498.4,330.1 1498.9,364.9 1501.9,368.4 1504.5,382.3 1508.8,375.4 1510.6,385.2 1511.5,400.9 1514.9,404.4 1515.3,432.2 1518.4,435.7 1521.5,449.6 1525.4,439.2 1529.7,440.9 1532,449.6 1532.3,477.5 1534.9,482.7 1535.8,491.4 1540.7,499.2 1544.2,491.4 1544.9,474 1548.9,470.5 1549.4,454.8 1551.5,451.3 1552.3,435.7 1555.3,432.2 1556.4,397.9 1558.9,394.5 1559.8,372.3 1562,368.9 1561.5,366 1561.5,309.3 1564.9,305.9 1565.4,283.8 1568.3,280.4 1568.8,251.5 1571.7,248.1 1572.6,239.6 1575.1,237 1579,243 1579.4,261.7 1581.9,265.1 1582.4,280.4 1585.3,283.8 1586.2,292.3 1588.7,294 1589.6,305.9 1592.1,309.3 1592.1,363.8 1595.5,365.5 1595.5,384.2 1598.1,363.8 1598.6,329.8 1602.3,326.3 1602.8,283.8 1605.2,280.4 1605.7,260 1608.3,256.6 1608.6,227.6 1611.7,224.2 1614.8,219.1 1615.1,200.4 1618.5,197 1619.4,183.4 1621.9,164.7 1625,161.3 1625.3,149.4 1628.4,139.1 1629.1,128.9 1632.1,125.5 1637.2,130.6 1638.9,171.5 1641.5,181.7 1643.2,168.1 1644.9,158.7 1655.9,160.4 1659.4,168.1 1661.9,173.2 1662.8,195.3 1665.3,198.7 1666.2,208.9 1669.6,217.4 1673,224.2 1673.8,282.1 1675.5,283.8 1675.5,498.3 1678.9,501.7 1682.3,522.1 1683.2,437 1686.6,433.6 1686.6,340 1686.2,321.2 1686.2,260 1687.9,258.3 1689.1,249.8 1691.7,256.6 1695.9,262.5 1699.4,256.6 1701.9,248.1 1702.8,232.7 1705.3,229.3 1706.2,224.2 1708.7,220.8 1709.6,210.6 1712.1,208.1 1717.2,210.6 1719.8,202.1 1723.2,197 1725.7,202.1 1726.6,217.4 1729.1,220.8 1730,231 1732.5,234.4 1732.5,261.7 1735.9,265.1 1736.3,271.9 1739.3,275.3 1739.7,290.6 1742.8,294 1743.6,305.9 1745.8,312.7 1746.5,326.3 1749.6,329.8 1750.4,350.2 1751.3,353.6 1754.7,362.1 1756.4,380.8 1758.9,382.5 1759.8,392.8 1764,403.8 1766.6,392.8 1769.1,367.2 1769.6,340 1769.6,336.6 1773,334.9 1773.4,249.8 1775.9,246.4 1776.5,229.3 1779.3,225.9 1779.9,208.9 1781.9,201.3 1784.5,208.9 1786.2,210.6 1786.7,280.4 1789.6,282.1 1790.1,351.9 1790.4,404.7 1792.1,414.9 1794.7,403 1796.4,362.1 1798.1,340 1798.1,304.2 1799.3,263.4 1802.3,260 1803.2,244.7 1806.6,253.2 1809.1,270.2 1810.8,253.2 1813.4,249.8 1813.9,232.7 1816.8,229.3 1817.6,210.6 1820.2,208.9 1820.7,186.8 1822.4,185.1 1822.6,151.9"/>
<polyline class="cv" stroke="#000000" stroke-width="2.8" stroke-opacity="0.62" stroke-dasharray="7 2.4 4 2.8 10 2.2 3 3" stroke-linecap="butt" points="218.8,228.1 227.7,227.8 235.1,224.4 240.8,224 247.3,227.8 257.1,228.5 273.4,227.8 281.6,224.4 297.9,224.4 306,221.1 322.3,221.1 329.7,224.4 335.4,232.2 339.5,237.1 340.3,248.5 342.7,253.4 343.6,266.5 346.8,268.9 346.8,315.4 349.3,318.7 349.3,346.4 352.5,351.3 354.2,374.1 356.6,359.5 357.4,343.1 361.5,339.1 366.4,328.5 371.3,327.3 376.2,329.3 380.3,336.6 381.9,349.7 383.5,361.1 386,374.1 390,364.4 390.9,349.7 393.3,346.4 393.3,325.2 397.4,320.3 398.2,307.3 399.8,304 399.8,287.7 403.9,281.2 406.4,271.4 410.4,267.6 431.6,267.6 438.2,264.5 448,264.3 457.7,261.1 469.2,261.1 480.6,255 493.6,251.3 498.5,251.1 519.2,237 545.3,227.2 564.8,221.1 582.2,218.5 606.2,217.4 613.8,222.8 619.2,231.5 623.6,246.8 636.6,266.3 644.2,282.7 651.8,313.1 661.6,341.4 667.1,367.5 669.2,391.4 671.4,415.4 673.6,441.5 675.8,476.3 676.8,504.5 680.1,526.3 688.8,535 734.5,535 738.8,526.3 741,500.2 744.3,480.6 747.5,452.3 750.8,432.8 754.1,408.8 758.4,380.6 761.7,361 763.8,339.2 769.3,321.8 773.6,313.1 782.3,313.1 791,295.7 799.3,284.8 813.9,297.9 828,293.5 832.4,274 838.9,258.7 854.1,232.6 860,230.5 868.7,218.6 877.4,216.4 881.8,206.6 890.5,201.2 900.2,200.1 904.6,194 919.8,194 924.2,197.9 928.5,194 940.5,194 943.7,202.2 945.9,213.1 950.9,222.9 954.6,214.6 957.4,226.2 965.5,222.9 968.8,208.8 975.3,197.9 984,190.3 993.8,183.7 1003.6,182.7 1010.1,177.7 1040.5,177.7 1049.2,175 1055.8,175 1065.5,170.7 1073.2,174.6 1084,174.6 1093.8,180.5 1100.3,188.1 1104.7,187 1108,174 1112.3,169.2 1131.9,169.2 1144.9,170.7 1155.8,177.9 1161.3,169.6 1173.2,164.2 1184.1,164.2 1188.4,168.5 1203.7,169.2 1208,178.3 1211.3,208.8 1214.5,230.5 1217.8,251.2 1221.1,239.2 1224.3,217.5 1227.6,204.4 1229.8,189.2 1235.2,175 1242.8,169.2 1240,171.8 1248.7,168.3 1255.7,170 1264.4,180.5 1272.2,185.7 1277.4,197 1283.5,185.7 1288.7,183.9 1292.2,206.6 1294.8,206.6 1299.2,193.5 1302.6,190.9 1305.3,177 1309.6,173.5 1316.6,177 1320.9,185.7 1321.8,204.8 1328.7,206.6 1333.1,227.5 1337.4,228.3 1339.2,258.8 1341.8,260.5 1341.8,319.7 1345.3,321.4 1345.3,529.7 1351.4,529.7 1351.4,500.1 1354.8,498.3 1355.2,453.1 1358,423.5 1358.3,402.6 1361.8,400.9 1361.8,337.1 1365.3,335.3 1365.3,295.3 1368.4,293.6 1368.8,262.3 1371.4,260.5 1371.9,239.6 1374.9,234.4 1375.4,220.5 1378.3,215.3 1381.8,224 1385.3,229.2 1385.3,317.9 1387.9,331.9 1389.6,319.7 1393.1,321.4 1394.9,304 1397.5,290.1 1401.8,286.6 1402.7,269.2 1405.3,267.5 1405.3,248.3 1407.9,244.9 1408.8,232.7 1411.4,230.1 1414.9,236.2 1416.6,253.6 1419.2,267.5 1421.8,275.3 1425.3,267.5 1427.1,251.8 1429.7,250.1 1432.3,254.4 1438.4,255.3 1441.8,264 1445.3,253.6 1448.8,250.1 1453.2,258.8 1455.8,269.2 1459.2,259.6 1464.5,257.9 1467.9,265.7 1472.3,281.4 1476.7,284.9 1481,281.4 1482.7,267.5 1485.4,264 1489.7,272.7 1492.3,277.9 1492.3,307.5 1494.9,309.2 1495.4,328.4 1498.4,330.1 1498.9,364.9 1501.9,368.4 1504.5,382.3 1508.8,375.4 1510.6,385.2 1511.5,400.9 1514.9,404.4 1515.3,432.2 1518.4,435.7 1521.5,449.6 1525.4,439.2 1529.7,440.9 1532,449.6 1532.3,477.5 1534.9,482.7 1535.8,491.4 1540.7,499.2 1544.2,491.4 1544.9,474 1548.9,470.5 1549.4,454.8 1551.5,451.3 1552.3,435.7 1555.3,432.2 1556.4,397.9 1558.9,394.5 1559.8,372.3 1562,368.9 1561.5,366 1561.5,309.3 1564.9,305.9 1565.4,283.8 1568.3,280.4 1568.8,251.5 1571.7,248.1 1572.6,239.6 1575.1,237 1579,243 1579.4,261.7 1581.9,265.1 1582.4,280.4 1585.3,283.8 1586.2,292.3 1588.7,294 1589.6,305.9 1592.1,309.3 1592.1,363.8 1595.5,365.5 1595.5,384.2 1598.1,363.8 1598.6,329.8 1602.3,326.3 1602.8,283.8 1605.2,280.4 1605.7,260 1608.3,256.6 1608.6,227.6 1611.7,224.2 1614.8,219.1 1615.1,200.4 1618.5,197 1619.4,183.4 1621.9,164.7 1625,161.3 1625.3,149.4 1628.4,139.1 1629.1,128.9 1632.1,125.5 1637.2,130.6 1638.9,171.5 1641.5,181.7 1643.2,168.1 1644.9,158.7 1655.9,160.4 1659.4,168.1 1661.9,173.2 1662.8,195.3 1665.3,198.7 1666.2,208.9 1669.6,217.4 1673,224.2 1673.8,282.1 1675.5,283.8 1675.5,498.3 1678.9,501.7 1682.3,522.1 1683.2,437 1686.6,433.6 1686.6,340 1686.2,321.2 1686.2,260 1687.9,258.3 1689.1,249.8 1691.7,256.6 1695.9,262.5 1699.4,256.6 1701.9,248.1 1702.8,232.7 1705.3,229.3 1706.2,224.2 1708.7,220.8 1709.6,210.6 1712.1,208.1 1717.2,210.6 1719.8,202.1 1723.2,197 1725.7,202.1 1726.6,217.4 1729.1,220.8 1730,231 1732.5,234.4 1732.5,261.7 1735.9,265.1 1736.3,271.9 1739.3,275.3 1739.7,290.6 1742.8,294 1743.6,305.9 1745.8,312.7 1746.5,326.3 1749.6,329.8 1750.4,350.2 1751.3,353.6 1754.7,362.1 1756.4,380.8 1758.9,382.5 1759.8,392.8 1764,403.8 1766.6,392.8 1769.1,367.2 1769.6,340 1769.6,336.6 1773,334.9 1773.4,249.8 1775.9,246.4 1776.5,229.3 1779.3,225.9 1779.9,208.9 1781.9,201.3 1784.5,208.9 1786.2,210.6 1786.7,280.4 1789.6,282.1 1790.1,351.9 1790.4,404.7 1792.1,414.9 1794.7,403 1796.4,362.1 1798.1,340 1798.1,304.2 1799.3,263.4 1802.3,260 1803.2,244.7 1806.6,253.2 1809.1,270.2 1810.8,253.2 1813.4,249.8 1813.9,232.7 1816.8,229.3 1817.6,210.6 1820.2,208.9 1820.7,186.8 1822.4,185.1 1822.6,151.9"/>
<path class="cv" stroke="#000000" stroke-width="3.2" stroke-opacity="0.6" stroke-linecap="round" d="M353.8,369.1 L354.2,374.1 L355.0,369.2 M385.1,369.2 L386.0,374.1 L387.9,369.5 M796.3,288.8 L799.3,284.8 L803.0,288.1 M810.2,294.6 L813.9,297.9 L818.7,296.4 M920.5,194.6 L924.2,197.9 L927.9,194.5 M948.6,218.4 L950.9,222.9 L952.9,218.3 M952.6,219.2 L954.6,214.6 L955.8,219.5 M956.2,221.3 L957.4,226.2 L962.0,224.3 M1060.9,172.7 L1065.5,170.7 L1070.0,173.0 M1151.6,175.1 L1155.8,177.9 L1158.6,173.7 M1217.0,246.3 L1217.8,251.2 L1219.1,246.4 M1275.3,192.5 L1277.4,197.0 L1279.8,192.6 M1305.7,176.7 L1309.6,173.5 L1314.1,175.7 M1375.9,219.7 L1378.3,215.3 L1380.2,219.9 M1387.0,327.0 L1387.9,331.9 L1388.6,326.9 M1420.2,270.6 L1421.8,275.3 L1423.8,270.7 M1440.0,259.3 L1441.8,264.0 L1443.4,259.3 M1445.3,253.6 L1445.3,253.6 L1448.8,250.1 L1451.1,254.6 M1454.6,264.3 L1455.8,269.2 L1457.5,264.5 M1472.8,281.8 L1476.7,284.9 L1480.6,281.7 M1482.6,268.1 L1482.7,267.5 L1485.4,264.0 L1487.6,268.5 M1503.6,377.4 L1504.5,382.3 L1507.1,378.1 M1506.2,379.6 L1508.8,375.4 L1509.7,380.3 M1520.4,444.7 L1521.5,449.6 L1523.3,444.9 M1538.0,495.0 L1540.7,499.2 L1542.7,494.6 M1595.5,379.2 L1595.5,384.2 L1596.1,379.2 M1629.1,129.4 L1629.1,128.9 L1632.1,125.5 L1635.6,129.0 M1640.3,176.9 L1641.5,181.7 L1642.1,176.7 M1681.5,517.2 L1682.3,522.1 L1682.4,517.1 M1688.4,254.8 L1689.1,249.8 L1690.9,254.5 M1693.0,258.4 L1695.9,262.5 L1698.5,258.2 M1720.4,201.2 L1723.2,197.0 L1725.4,201.5 M1762.2,399.1 L1764.0,403.8 L1765.2,398.9 M1780.6,206.1 L1781.9,201.3 L1783.5,206.0 M1791.3,410.0 L1792.1,414.9 L1793.2,410.0 M1802.9,249.7 L1803.2,244.7 L1805.1,249.3 M1808.4,265.3 L1809.1,270.2 L1809.6,265.2"/>
<polygon fill="#000000" points="1674.7,431.9 1684,437.9 1684,522.1 1681.5,523.5 1678.4,501.7 1674.7,498.3"/>
</g>
<g style="filter:blur(1px)">
<path class="ax" stroke-width="4.8" d="M218.4,1326.0 V17.4 M192.4,17.4 H1823.5"/>
<path class="ax" stroke-width="4.4" style="stroke:#1c1c1c" d="M192.4,1301.5 H1823.5"/>
<path class="ax" stroke-width="4.6" d="M1823.1,14.9 V1304.0"/>
<path fill="none" stroke="#000" stroke-opacity="0.42" stroke-width="2.6" d="M1826.7,15.4 V1303.5"/>
<path fill="none" stroke="#000" stroke-opacity="0.2" stroke-width="2.2" d="M1819.7,16.4 V1302.5"/>
<path class="tk" stroke-width="4.1" d="M204.9,97.2 H218.4 M192.4,177.4 H218.4 M204.9,257.8 H218.4 M192.4,338.1 H218.4 M204.9,418.4 H218.4 M192.4,498.6 H218.4 M204.9,579.0 H218.4 M192.4,659.2 H218.4 M204.9,739.5 H218.4 M192.4,819.9 H218.4 M204.9,900.1 H218.4 M192.4,980.4 H218.4 M204.9,1060.7 H218.4 M192.4,1141.0 H218.4 M204.9,1221.3 H218.4 "/>
<path class="tk" stroke-width="4.1" d="M663.6,1301.5 V1324.7 M1109.3,1301.5 V1324.7 M1555.0,1301.5 V1324.7 M440.6,1301.5 V1313.0 M887.3,1301.5 V1313.0 M1331.5,1301.5 V1313.0 M1778.3,1301.5 V1313.0 "/>
</g>
<g style="filter:blur(0.9px)">
<text transform="scale(1.045,1)" y="1410.4" font-size="95.5" x="117.8 163.2 208.5 253.9">4000</text>
<text transform="scale(1.045,1)" y="1410.4" font-size="95.5" x="545.6 590.9 636.3 681.6">3000</text>
<text transform="scale(1.045,1)" y="1410.4" font-size="95.5" x="972.5 1017.9 1063.3 1108.6">2000</text>
<text transform="scale(1.045,1)" y="1410.4" font-size="95.5" x="1400.1 1445.5 1490.8 1536.2">1000</text>
<text y="1512" font-size="92"><tspan x="472.1 565.5 612.1 668.2 711.8 770.6 828.1 914.7 974.6 1019.0 1053.5">Wavenumbers</tspan> <tspan x="1119.9" font-size="138" style="font-weight:normal;stroke:#000;stroke-width:0.8px">(</tspan><tspan x="1166.3 1210.0">cm</tspan><tspan x="1294.1 1326.5" y="1469.6 1474" font-size="96">-1</tspan><tspan x="1373.2" y="1512" font-size="138" style="font-weight:normal;stroke:#000;stroke-width:0.8px">)</tspan></text>
<text transform="translate(92.3,1000.0) rotate(-90) scale(1.035,1)" style="font-family:'Liberation Mono','Liberation Sans',monospace;font-weight:normal" font-size="101.5" x="11.0" y="0">%</text>
<text transform="translate(92.8,1000.0) rotate(-90) scale(0.915,1)" font-size="99" x="128.5 192.0 232.3 281.4 346.5 394.0 484.3 522.7 556.3 585.1 635.4 700.3 749.1" y="0">Transmittance</text>
<rect x="1466.1" y="1399.5" width="19.2" height="13.9" fill="#fff"/><rect x="1501.0" y="1399.5" width="17.0" height="13.9" fill="#fff"/>
<rect x="1329.4" y="1463.1" width="18.4" height="13.9" fill="#fff"/><rect x="1363.0" y="1463.1" width="16.3" height="13.9" fill="#fff"/>
</g>
</svg>
</body>
</html>
